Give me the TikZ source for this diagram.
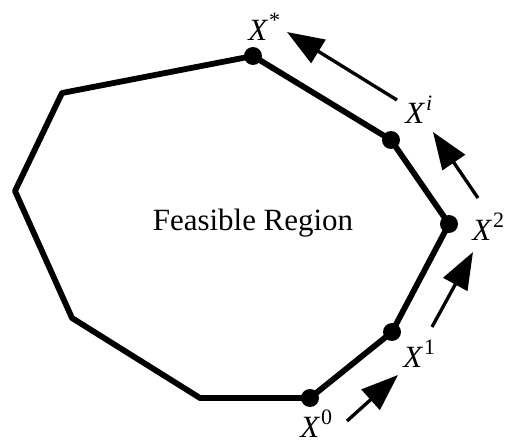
\documentclass[tikz,border=0pt]{standalone}
\usepackage{fontspec}
\setmainfont{Liberation Serif}
\usetikzlibrary{arrows.meta,positioning}
\tikzset{
  region/.style={line width=3.3pt,line join=round},
  vertexdot/.style={circle,fill,inner sep=0pt,minimum size=0.36cm},
  steparrow/.style={line width=1.9pt,-{Triangle[length=0.74cm,width=0.54cm]}},
  ptlabel/.style={inner sep=0pt,anchor=base west,font=\fontsize{17.6}{20}\selectfont}
}
\newcommand{\iter}[1]{\textit{X}\kern0.5pt\raisebox{0.42em}{\fontsize{12.5}{14}\selectfont #1}}

\begin{document}
\begin{tikzpicture}[x=0.02cm,y=-0.02cm]
      \useasboundingbox (0,0) rectangle (505,443);
      \coordinate (xs) at (253,56);
      \coordinate (ul) at (62,93);
      \coordinate (le) at (15,191);
      \coordinate (ll) at (72,318);
      \coordinate (bo) at (200,398);
      \coordinate (x0) at (310,398);
      \coordinate (x1) at (392,332);
      \coordinate (x2) at (449,224);
      \coordinate (xi) at (391,140);
      \draw[region] (xs) -- (ul) -- (le) -- (ll) -- (bo) -- (x0) -- (x1) -- (x2) -- (xi) -- cycle;
      \foreach \p in {xs,x0,x1,x2,xi}{
        \node[vertexdot] (dot-\p) at (\p) {};
      }
      \node[ptlabel] (lbl-x0) at (300,437) {\iter{0}};
      \node[ptlabel] (lbl-x1) at (403,367) {\iter{1}};
      \node[ptlabel] (lbl-x2) at (472,240) {\iter{2}};
      \node[ptlabel] (lbl-xi) at (405,123) {\iter{\textit{i}}};
      \node[ptlabel] (lbl-xs) at (248,40) {\iter{*}};
      \node[ptlabel,anchor=base] (feas) at (253,230) {Feasible Region};
      \coordinate (a0) at (347,421);
      \coordinate (a1) at (398,375);
      \coordinate (b0) at (432,327);
      \coordinate (b1) at (473,252);
      \coordinate (c0) at (478,198);
      \coordinate (c1) at (433,132);
      \coordinate (d0) at (397,100);
      \coordinate (d1) at (287,32);
      \draw[steparrow] (a0) -- (a1);
      \draw[steparrow] (b0) -- (b1);
      \draw[steparrow] (c0) -- (c1);
      \draw[steparrow] (d0) -- (d1);
    \end{tikzpicture}
\end{document}
